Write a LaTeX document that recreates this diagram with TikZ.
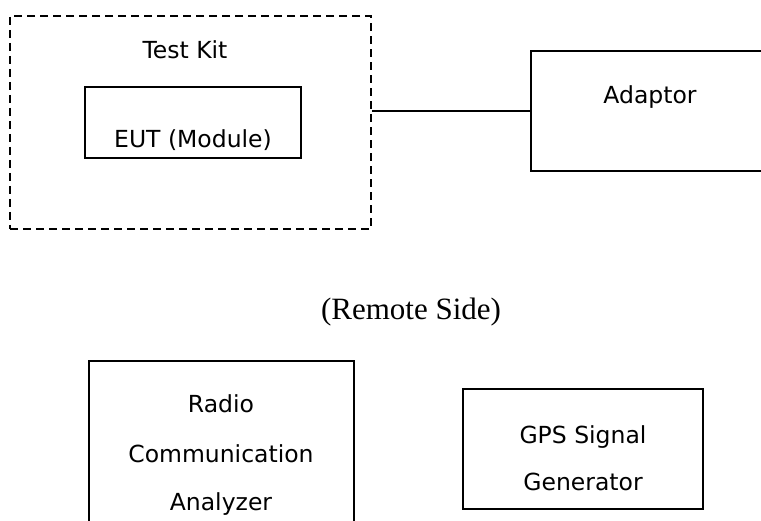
\documentclass[tikz,border=0pt]{standalone}
\usepackage{fontspec}
\newfontfamily\dvfont{DejaVu Sans}
\newfontfamily\tmsfont{Liberation Serif}
\begin{document}
\begin{tikzpicture}[x=1pt,y=-1pt,
  box/.style={draw,line width=1.8pt,minimum width=#1,inner sep=0pt},
  kitbox/.style={draw,line width=1.5pt,dash pattern=on 8pt off 5pt,inner sep=0pt},
  lbl/.style={anchor=base,inner sep=0pt,font=\dvfont\fontsize{23.5}{23.5}\selectfont},
  remote/.style={anchor=base,inner sep=0pt,font=\tmsfont\fontsize{31}{31}\selectfont},
  wire/.style={line width=1.8pt}]
\useasboundingbox (0,0) rectangle (761,521);
\clip (0,0) rectangle (761,521);
% boxes
\node[kitbox,minimum width=361pt,minimum height=213pt] (kit) at (190.5,122.5) {};
\node[box=216pt,minimum height=71pt] (eut) at (193,122.5) {};
\node[box=250pt,minimum height=120pt] (adaptor) at (656,111) {};
\node[box=265pt,minimum height=180pt] (radio) at (221.5,451) {};
\node[box=240pt,minimum height=120pt] (gps) at (583,449) {};
% connector
\draw[wire] (adaptor.west -| kit.east) -- (adaptor.west);
% texts
\node[lbl] (tkit) at (185,59) {Test Kit};
\node[lbl] (teut) at (193,148) {EUT (Module)};
\node[lbl] (tadaptor) at (650,104) {Adaptor};
\node[remote] (tremote) at (411,320) {(Remote Side)};
\node[lbl] (tradio1) at (221,413) {Radio};
\node[lbl] (tradio2) at (221,462) {Communication};
\node[lbl] (tradio3) at (221,510) {Analyzer};
\node[lbl] (tgps1) at (583,443) {GPS Signal};
\node[lbl] (tgps2) at (583,490) {Generator};
\end{tikzpicture}
\end{document}
